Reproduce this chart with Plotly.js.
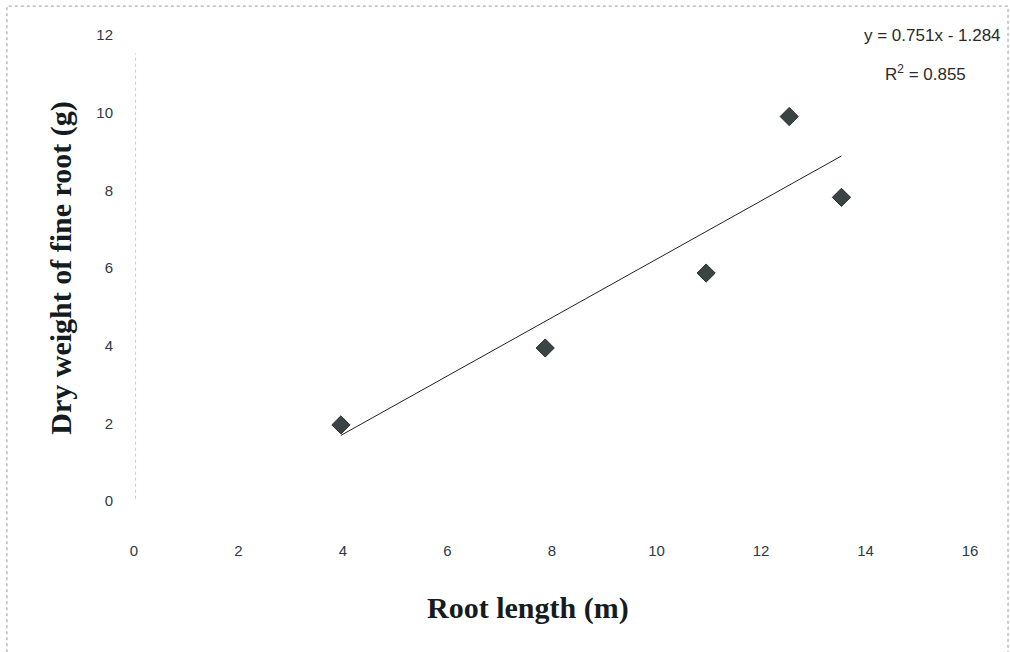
<!DOCTYPE html>
<html>
<head>
<meta charset="utf-8">
<script src="https://cdn.plot.ly/plotly-3.0.1.min.js"></script>
<style>
  html, body { margin: 0; padding: 0; background: #fff; }
  #chart { width: 1010px; height: 652px; }
</style>
</head>
<body>
<div id="chart"></div>
<script>
// Root length (m) against dry weight of fine root (g)
const rootLength = [3.96, 7.87, 10.95, 12.54, 13.54];
const dryWeight = [1.96, 3.94, 5.87, 9.90, 7.82];

// Linear fit as reported on the chart
const slope = 0.751;
const intercept = -1.284;
const rSquared = 0.855;

const xTicks = [0, 2, 4, 6, 8, 10, 12, 14, 16];
const yTicks = [0, 2, 4, 6, 8, 10, 12];

const xMin = Math.min(...rootLength);
const xMax = Math.max(...rootLength);
const fitX = [xMin, xMax];
const fitY = fitX.map(x => slope * x + intercept);

const points = {
  x: rootLength,
  y: dryWeight,
  type: 'scatter',
  mode: 'markers',
  marker: { symbol: 'diamond', size: 14, color: '#3b4444', line: { color: '#2a3030', width: 1 } },
  hoverinfo: 'x+y',
  showlegend: false
};

const fitLine = {
  x: fitX,
  y: fitY,
  type: 'scatter',
  mode: 'lines',
  line: { color: '#222', width: 1 },
  hoverinfo: 'skip',
  showlegend: false
};

const tickFont = { family: 'Arial, Liberation Sans, sans-serif', size: 15, color: '#2e3a46' };
const titleFont = { family: 'Times New Roman, Liberation Serif, serif', size: 30, color: '#141c20', weight: 'bold' };
const noteFont = { family: 'Arial, Liberation Sans, sans-serif', size: 17, color: '#2a2a2a' };

const layout = {
  width: 1010,
  height: 652,
  margin: { l: 134, r: 40, t: 35, b: 151 },
  paper_bgcolor: '#fff',
  plot_bgcolor: '#fff',
  xaxis: {
    range: [0, 16],
    tickvals: xTicks,
    ticktext: xTicks.map(String),
    showgrid: false,
    zeroline: false,
    showline: false,
    ticks: '',
    ticklabelstandoff: 39,
    tickfont: tickFont
  },
  yaxis: {
    range: [0, 12],
    tickvals: yTicks,
    ticktext: yTicks.map(String),
    showgrid: false,
    zeroline: false,
    showline: false,
    ticks: '',
    ticklabelstandoff: 20,
    tickfont: tickFont,
    title: { text: 'Dry weight of fine root (g)', font: titleFont, standoff: 15 }
  },
  shapes: [
    // faint dotted vertical axis
    { type: 'line', xref: 'x', yref: 'paper', x0: 0.03, x1: 0.03, y0: 0.005, y1: 0.96,
      line: { color: '#c8c8c8', width: 1, dash: 'dot' } },
    // outer frame
    { type: 'rect', xref: 'paper', yref: 'paper', x0: -0.152, x1: 1.0455, y0: -0.33, y1: 1.062,
      line: { color: '#9a9a9a', width: 1, dash: 'dot' } }
  ],
  annotations: [
    // x-axis title, set slightly left of the plot centre
    { xref: 'paper', yref: 'paper', x: 0.4713, y: -0.2296, xanchor: 'center', yanchor: 'middle',
      text: 'Root length (m)', showarrow: false, font: titleFont },
    { xref: 'paper', yref: 'paper', x: 1.0395, y: 1.0, xanchor: 'right', yanchor: 'middle',
      text: 'y = ' + slope.toFixed(3) + 'x - ' + Math.abs(intercept).toFixed(3), showarrow: false,
      font: noteFont },
    { xref: 'paper', yref: 'paper', x: 0.947, y: 0.918, xanchor: 'center', yanchor: 'middle',
      text: 'R<sup>2</sup> = ' + rSquared.toFixed(3), showarrow: false,
      font: noteFont }
  ]
};

Plotly.newPlot('chart', [fitLine, points], layout, { displayModeBar: false, staticPlot: true });
</script>
</body>
</html>
